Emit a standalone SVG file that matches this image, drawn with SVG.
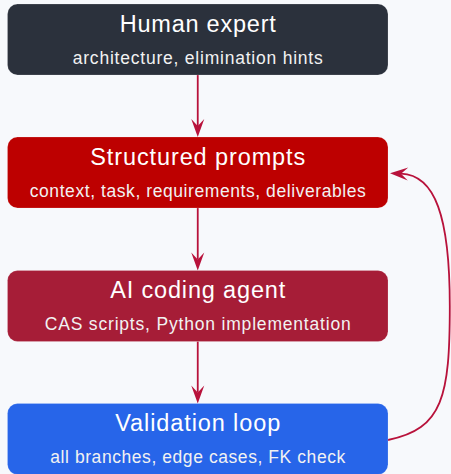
<svg xmlns="http://www.w3.org/2000/svg" width="451" height="474" viewBox="0 0 451 474">
  <defs>
    <style>
      .box { stroke: #ffffff; stroke-opacity: 0.22; stroke-width: 0.8; }
      .title { font-family: "Liberation Sans", Arial, sans-serif; font-size: 23.5px; fill: #ffffff; text-anchor: middle; }
      .sub { font-family: "Liberation Sans", Arial, sans-serif; font-size: 17.5px; fill: #f2f2f2; text-anchor: middle; }
      .edge { fill: none; stroke: #b8123b; stroke-width: 1.8; }
    </style>
    <!-- stealth-style arrowhead; path ends at the notch, tip lies 11px ahead -->
    <marker id="stealth" markerUnits="userSpaceOnUse" viewBox="-8 -8 20 16" markerWidth="20" markerHeight="16" refX="0" refY="0" orient="auto">
      <path d="M11,0 L-7,-6.5 L0,0 L-7,6.5 Z" fill="#b8123b"/>
    </marker>
  </defs>

  <rect width="451" height="474" fill="#f7f9fc"/>

  <g id="connectors">
    <path class="edge" d="M197.75,75 L197.75,126" marker-end="url(#stealth)"/>
    <path class="edge" d="M197.75,208 L197.75,259.5" marker-end="url(#stealth)"/>
    <path class="edge" d="M197.75,341.5 L197.75,392.5" marker-end="url(#stealth)"/>
    <!-- feedback loop from validation back to the prompts -->
    <path class="edge" d="M388,440 C443,429 449.8,396 449.8,306 C449.8,216 435,175 401,173.7" marker-end="url(#stealth)"/>
  </g>

  <g id="human-expert">
    <rect class="box" x="7.5" y="4" width="380.5" height="71" rx="10" fill="#2b313c"/>
    <text class="title" x="197.75" y="32" textLength="156">Human expert</text>
    <text class="sub" x="197.75" y="64" textLength="250">architecture, elimination hints</text>
  </g>

  <g id="structured-prompts">
    <rect class="box" x="7.5" y="137" width="380.5" height="71" rx="10" fill="#bd0000"/>
    <text class="title" x="197.75" y="164.5" textLength="215">Structured prompts</text>
    <text class="sub" x="197.75" y="196.5" textLength="336">context, task, requirements, deliverables</text>
  </g>

  <g id="ai-coding-agent">
    <rect class="box" x="7.5" y="270.5" width="380.5" height="71" rx="10" fill="#a61d37"/>
    <text class="title" x="197.75" y="297.5" textLength="175">AI coding agent</text>
    <text class="sub" x="197.75" y="330" textLength="306">CAS scripts, Python implementation</text>
  </g>

  <g id="validation-loop">
    <rect class="box" x="7.5" y="403.5" width="380.5" height="71" rx="10" fill="#2765e9"/>
    <text class="title" x="197.75" y="431" textLength="165">Validation loop</text>
    <text class="sub" x="197.75" y="463" textLength="295">all branches, edge cases, FK check</text>
  </g>
</svg>
